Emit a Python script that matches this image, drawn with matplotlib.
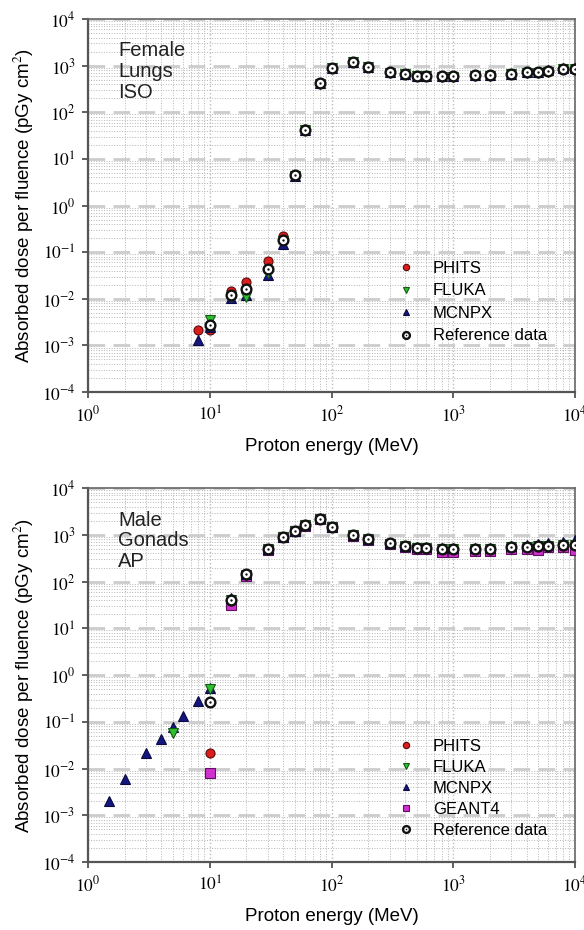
import matplotlib
matplotlib.use('Agg')
import matplotlib.pyplot as plt
from matplotlib.ticker import LogLocator, FixedLocator, NullFormatter

plt.rcParams['font.family'] = ['Liberation Sans', 'DejaVu Sans']
plt.rcParams['mathtext.fontset'] = 'stix'

# ---- 数据：上图 Female Lungs ISO ----
e_ref = [10, 15, 20, 30, 40, 50, 60, 80, 100, 150, 200, 300, 400, 500, 600,
         800, 1000, 1500, 2000, 3000, 4000, 5000, 6000, 8000, 10000]
lung_ref = [0.0028, 0.012, 0.0166, 0.044, 0.18, 4.5, 42, 420, 890, 1200, 930, 720, 660, 600, 600,
            590, 590, 620, 620, 660, 720, 720, 760, 860, 860]

e_lung_phits = [8, 10, 15, 20, 30, 40, 50, 60, 80, 100, 150, 200, 300, 400, 500, 600,
                800, 1000, 1500, 2000, 3000, 4000, 5000, 6000, 8000, 10000]
lung_phits = [0.0021, 0.0021, 0.0145, 0.023, 0.064, 0.22, 4.6, 43, 425, 900, 1200, 930, 720, 650, 600, 600,
              590, 590, 620, 620, 660, 720, 720, 760, 850, 860]

e_lung_fluka = [10, 15, 20, 30, 40, 50, 60, 80, 100, 150, 200, 300, 400, 500, 600,
                800, 1000, 1500, 2000, 3000, 4000, 5000, 6000, 8000, 10000]
lung_fluka = [0.0035, 0.011, 0.011, 0.035, 0.17, 4.4, 41, 410, 880, 1190, 920, 710, 650, 590, 590,
              580, 580, 610, 610, 650, 710, 700, 740, 840, 850]

e_lung_mcnpx = [8, 10, 15, 20, 30, 40, 50, 60, 80, 100, 150, 200, 300, 400, 500, 600,
                800, 1000, 1500, 2000, 3000, 4000, 5000, 6000, 8000, 10000]
lung_mcnpx = [0.0013, 0.0025, 0.0105, 0.012, 0.032, 0.15, 4.4, 42, 415, 880, 1210, 940, 730, 660, 610, 610,
              600, 600, 630, 630, 670, 740, 750, 800, 880, 900]

# ---- 数据：下图 Male Gonads AP ----
gon_ref = [0.27, 40, 143, 490, 910, 1230, 1600, 2240, 1480, 1000, 810, 660, 575, 530, 530,
           500, 500, 510, 510, 555, 555, 570, 590, 600, 600]

e_gon_phits = [10, 15, 20, 30, 40, 50, 60, 80, 100, 150, 200, 300, 400, 500, 600,
               800, 1000, 1500, 2000, 3000, 4000, 5000, 6000, 8000, 10000]
gon_phits = [0.021, 38, 140, 480, 900, 1220, 1600, 2200, 1470, 990, 800, 650, 570, 520, 520,
             490, 490, 500, 500, 550, 550, 560, 580, 590, 600]

e_gon_fluka = [5, 10, 15, 20, 30, 40, 50, 60, 80, 100, 150, 200, 300, 400, 500, 600,
               800, 1000, 1500, 2000, 3000, 4000, 5000, 6000, 8000, 10000]
gon_fluka = [0.057, 0.5, 40, 142, 490, 900, 1220, 1590, 2230, 1470, 990, 800, 650, 570, 520, 520,
             490, 490, 500, 500, 550, 560, 570, 590, 610, 620]

e_gon_mcnpx = [1.5, 2, 3, 4, 5, 6, 8, 10, 15, 20, 30, 40, 50, 60, 80, 100, 150, 200, 300, 400, 500, 600,
               800, 1000, 1500, 2000, 3000, 4000, 5000, 6000, 8000, 10000]
gon_mcnpx = [0.002, 0.006, 0.022, 0.043, 0.078, 0.13, 0.28, 0.52, 45, 145, 500, 920, 1240, 1610, 2250, 1490,
             1010, 820, 670, 590, 550, 550, 520, 520, 530, 530, 580, 600, 630, 660, 720, 780]

e_gon_geant4 = [10, 15, 20, 30, 40, 50, 60, 80, 100, 150, 200, 300, 400, 500, 600,
                800, 1000, 1500, 2000, 3000, 4000, 5000, 6000, 8000, 10000]
gon_geant4 = [0.008, 31, 135, 470, 880, 1200, 1560, 2180, 1440, 970, 780, 630, 550, 500, 500,
              440, 440, 460, 450, 500, 510, 470, 540, 560, 480]

x_ticks = [1, 10, 100, 1000, 10000]
x_tick_labels = ['$10^{0}$', '$10^{1}$', '$10^{2}$', '$10^{3}$', '$10^{4}$']
y_ticks = [1e-4, 1e-3, 1e-2, 1e-1, 1, 10, 100, 1000, 10000]
y_tick_labels = ['$10^{-4}$', '$10^{-3}$', '$10^{-2}$', '$10^{-1}$', '$10^{0}$',
                 '$10^{1}$', '$10^{2}$', '$10^{3}$', '$10^{4}$']

# 样式
sty_phits = dict(marker='o', ms=6.5, mfc='#dd1c1c', mec='#5a0a0a', mew=0.8, ls='none')
sty_fluka = dict(marker='v', ms=7, mfc='#2fc02f', mec='#145a14', mew=0.8, ls='none')
sty_mcnpx = dict(marker='^', ms=7, mfc='#151580', mec='#0a0a40', mew=0.8, ls='none')
sty_geant4 = dict(marker='s', ms=6.5, mfc='#d030d0', mec='#601060', mew=0.8, ls='none')
sty_ref = dict(marker='o', ms=7, mfc='white', mec='#111111', mew=1.7, ls='none')
sty_dot = dict(marker='o', ms=1.7, mfc='#111111', mec='#111111', mew=0, ls='none')


def style_axes(ax):
    ax.set_xscale('log')
    ax.set_yscale('log')
    ax.set_xlim(1, 1e4)
    ax.set_ylim(1e-4, 1e4)
    ax.xaxis.set_major_locator(FixedLocator(x_ticks))
    ax.set_xticklabels(x_tick_labels)
    ax.yaxis.set_major_locator(FixedLocator(y_ticks))
    ax.set_yticklabels(y_tick_labels)
    ax.xaxis.set_minor_locator(LogLocator(base=10, subs=range(2, 10), numticks=20))
    ax.yaxis.set_minor_locator(LogLocator(base=10, subs=range(2, 10), numticks=20))
    ax.xaxis.set_minor_formatter(NullFormatter())
    ax.yaxis.set_minor_formatter(NullFormatter())
    ax.tick_params(which='major', direction='out', length=4, width=1.2, color='#444444',
                   labelsize=12.5, pad=5)
    ax.tick_params(which='minor', length=0)
    ax.grid(which='major', axis='y', color='#cccccc', ls=(0, (6, 3)), lw=2.0)
    ax.grid(which='major', axis='x', color='#bbbbbb', ls=':', lw=1.0)
    ax.grid(which='minor', color='#b5b5b5', ls=':', lw=0.7)
    ax.set_axisbelow(True)
    for side in ['left', 'bottom']:
        ax.spines[side].set_linewidth(1.6)
        ax.spines[side].set_color('#555555')
    for side in ['top', 'right']:
        ax.spines[side].set_linewidth(1.2)
        ax.spines[side].set_color('#666666')
    ax.set_xlabel('Proton energy (MeV)', fontsize=13.5, labelpad=10)
    ax.set_ylabel('Absorbed dose per fluence (pGy cm$^{2}$)', fontsize=13.5, labelpad=4)


fig = plt.figure(figsize=(5.84, 9.30), dpi=100)
ax1 = fig.add_axes([0.1507, 0.5785, 0.834, 0.401])
ax2 = fig.add_axes([0.1507, 0.0731, 0.834, 0.402])

# 上图
style_axes(ax1)
h1, = ax1.plot(e_lung_phits, lung_phits, zorder=3, **sty_phits)
h2, = ax1.plot(e_lung_fluka, lung_fluka, zorder=4, **sty_fluka)
h3, = ax1.plot(e_lung_mcnpx, lung_mcnpx, zorder=3.5, **sty_mcnpx)
h4, = ax1.plot(e_ref, lung_ref, zorder=5, **sty_ref)
h4d, = ax1.plot(e_ref, lung_ref, zorder=6, **sty_dot)
ax1.text(0.062, 0.94, 'Female\nLungs\nISO', transform=ax1.transAxes, fontsize=14.5,
         va='top', ha='left', linespacing=1.12, color='#222222')
ax1.legend([h1, h2, h3, (h4, h4d)], ['PHITS', 'FLUKA', 'MCNPX', 'Reference data'],
           loc='lower left', bbox_to_anchor=(0.605, 0.09), frameon=False, fontsize=12,
           handlelength=1.0, handletextpad=1.1, labelspacing=0.45, markerscale=0.7)

# 下图
style_axes(ax2)
g1, = ax2.plot(e_gon_phits, gon_phits, zorder=3, **sty_phits)
g2, = ax2.plot(e_gon_fluka, gon_fluka, zorder=3.2, **sty_fluka)
g3, = ax2.plot(e_gon_mcnpx, gon_mcnpx, zorder=3.1, **sty_mcnpx)
g4, = ax2.plot(e_gon_geant4, gon_geant4, zorder=2.9, **sty_geant4)
g5, = ax2.plot(e_ref, gon_ref, zorder=5, **sty_ref)
g5d, = ax2.plot(e_ref, gon_ref, zorder=6, **sty_dot)
ax2.text(0.062, 0.94, 'Male\nGonads\nAP', transform=ax2.transAxes, fontsize=14.5,
         va='top', ha='left', linespacing=1.12, color='#222222')
ax2.legend([g1, g2, g3, g4, (g5, g5d)], ['PHITS', 'FLUKA', 'MCNPX', 'GEANT4', 'Reference data'],
           loc='lower left', bbox_to_anchor=(0.605, 0.025), frameon=False, fontsize=12,
           handlelength=1.0, handletextpad=1.1, labelspacing=0.36, markerscale=0.7)

fig.savefig('out.png', dpi=100)
